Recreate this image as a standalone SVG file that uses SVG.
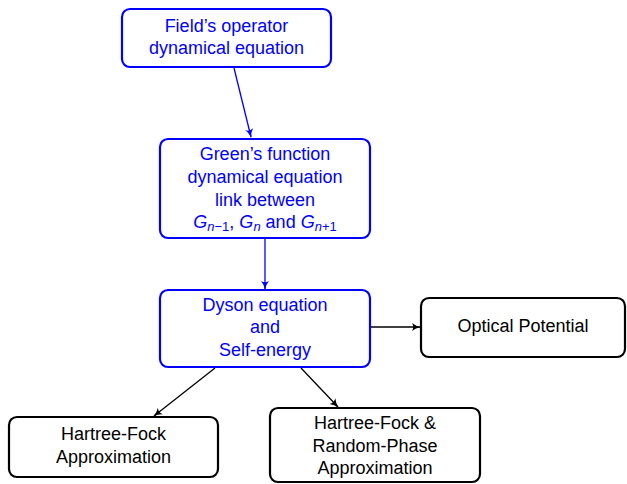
<svg xmlns="http://www.w3.org/2000/svg" width="627" height="484" viewBox="0 0 627 484">
<defs>
<marker id="ab" viewBox="0 0 10 10" refX="9" refY="5" markerWidth="9" markerHeight="9" markerUnits="userSpaceOnUse" orient="auto">
<path d="M0,0.5 Q4,4 10,5 Q4,6 0,9.5 Q3,5 0,0.5 Z" fill="#0000ff"/>
</marker>
<marker id="ak" viewBox="0 0 10 10" refX="9" refY="5" markerWidth="9" markerHeight="9" markerUnits="userSpaceOnUse" orient="auto">
<path d="M0,0.5 Q4,4 10,5 Q4,6 0,9.5 Q3,5 0,0.5 Z" fill="#000"/>
</marker>
</defs>
<style>
.bb{fill:#fff;stroke:#0000ff;stroke-width:2.2}
.kb{fill:#fff;stroke:#000;stroke-width:2.2}
text{font-family:"Liberation Sans",Arial,sans-serif;font-size:18px;text-anchor:middle}
.bt{fill:#0000ff}
.kt{fill:#000}
.m{font-style:italic}
.s{font-size:13px}
.cb{stroke:#0000ff;stroke-width:1.3;fill:none;marker-end:url(#ab)}
.ck{stroke:#000;stroke-width:1.3;fill:none;marker-end:url(#ak)}
</style>
<g id="n1">
<rect class="bb" x="122" y="9" width="209" height="58" rx="8"/>
<text class="bt" x="226.5" y="32">Field’s operator</text>
<text class="bt" x="226.5" y="54">dynamical equation</text>
</g>
<g id="n2">
<rect class="bb" x="160" y="139" width="210" height="99" rx="8"/>
<text class="bt" x="265" y="160">Green’s function</text>
<text class="bt" x="265" y="183">dynamical equation</text>
<text class="bt" x="265" y="206">link between</text>
<text class="bt" x="265" y="228"><tspan class="m">G</tspan><tspan class="m s" dy="3">n</tspan><tspan class="s">−1</tspan><tspan dy="-3">, </tspan><tspan class="m">G</tspan><tspan class="m s" dy="3">n</tspan><tspan dy="-3"> and </tspan><tspan class="m">G</tspan><tspan class="m s" dy="3">n</tspan><tspan class="s">+1</tspan></text>
</g>
<g id="n3">
<rect class="bb" x="160" y="290" width="210" height="77" rx="8"/>
<text class="bt" x="265" y="311">Dyson equation</text>
<text class="bt" x="265" y="333">and</text>
<text class="bt" x="265" y="356">Self-energy</text>
</g>
<g id="n4">
<rect class="kb" x="421" y="298" width="204" height="59" rx="8"/>
<text class="kt" x="523" y="332">Optical Potential</text>
</g>
<g id="n5">
<rect class="kb" x="9" y="417" width="209" height="60" rx="8"/>
<text class="kt" x="113.5" y="440">Hartree-Fock</text>
<text class="kt" x="113.5" y="463">Approximation</text>
</g>
<g id="n6">
<rect class="kb" x="270" y="408" width="210" height="74" rx="8"/>
<text class="kt" x="375" y="429">Hartree-Fock &amp;</text>
<text class="kt" x="375" y="452">Random-Phase</text>
<text class="kt" x="375" y="474">Approximation</text>
</g>
<g id="connectors">
<line class="cb" x1="234" y1="68" x2="251" y2="137"/>
<line class="cb" x1="265" y1="239" x2="265" y2="289"/>
<line class="ck" x1="371" y1="327" x2="420" y2="327"/>
<line class="ck" x1="215" y1="368" x2="154" y2="416"/>
<line class="ck" x1="301" y1="368" x2="338" y2="407"/>
</g>
</svg>
